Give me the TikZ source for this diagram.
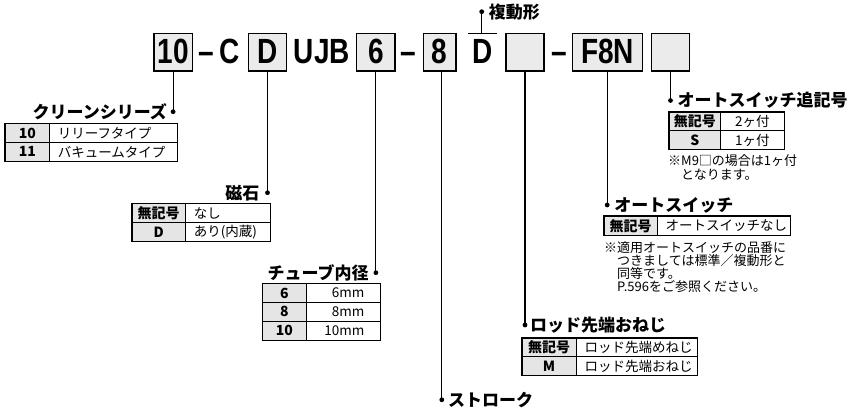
\documentclass[tikz,border=0pt]{standalone}
\usepackage{fontspec}
\newfontfamily\jp{Noto Sans CJK JP}
\newfontfamily\codefont{Liberation Sans}[FakeStretch=0.8]
\usetikzlibrary{positioning}
\definecolor{boxgray}{gray}{0.92}
\definecolor{keygray}{gray}{0.90}
\tikzset{
  codebox/.style={draw, line width=1.2pt, fill=boxgray, minimum height=37.7pt, inner sep=0pt,
    text height=22.5pt, text depth=0pt, font=\codefont\bfseries\fontsize{35}{35}\selectfont},
  codetext/.style={inner sep=0pt, text height=22.5pt, text depth=0pt,
    font=\codefont\bfseries\fontsize{35}{35}\selectfont},
  lead/.style={line width=1.1pt},
  lbl/.style={inner sep=0pt, font=\jp\bfseries\fontsize{17}{17}\selectfont},
  note/.style={inner sep=0pt, anchor=north west, align=left, font=\jp\fontsize{13}{13}\selectfont},
  keycell/.style={draw, line width=0.6pt, fill=keygray, minimum width=#1, minimum height=18.8pt,
    inner sep=0pt, anchor=north west, font=\jp\bfseries\fontsize{14}{14}\selectfont},
  valcell/.style={draw, line width=0.6pt, minimum width=#1, minimum height=18.8pt,
    inner sep=0pt, anchor=north west, font=\jp\fontsize{13.5}{13.5}\selectfont},
  valleft/.style={draw, line width=0.6pt, text width=#1, align=left, minimum height=18.8pt,
    inner xsep=8.5pt, inner ysep=0pt, anchor=north west, font=\jp\fontsize{13.5}{13.5}\selectfont},
  valright/.style={draw, line width=0.6pt, text width=#1, align=right, minimum height=18.8pt,
    inner xsep=16pt, inner ysep=0pt, anchor=north west, font=\jp\fontsize{13.5}{13.5}\selectfont},
  frame/.style={line width=1.1pt}
}
\begin{document}
\begin{tikzpicture}[x=1pt, y=-1pt]
\useasboundingbox (0,0) rectangle (847,411);

% model code
\node[codebox, minimum width=38.3pt] (b10) at (173.1,52.2) {10};
\node[codetext] (dash1) at (205.8,52.2) {–};
\node[codetext] (lc) at (229.3,52.2) {C};
\node[codebox, minimum width=38.4pt] (bD) at (267.5,52.2) {D};
\node[codetext] (lujb) at (322,52.2) {UJB};
\node[codebox, minimum width=38.3pt] (b6) at (375.9,52.2) {6};
\node[codetext] (dash2) at (408.5,52.2) {–};
\node[codebox, minimum width=32.7pt] (b8) at (439.7,52.2) {8};
\node[codetext] (lD) at (482.5,52.2) {D};
\node[codebox, minimum width=38pt] (bsw) at (525,52.2) {};
\node[codetext] (dash3) at (559.2,52.2) {–};
\node[codebox, minimum width=70pt] (bF) at (607.7,52.2) {F8N};
\node[codebox, minimum width=37.6pt] (bs) at (670.5,52.2) {};

% double acting mark
\coordinate (ovl) at (468.3,33.3);
\coordinate (ovr) at (496.7,33.3);
\coordinate (ovm) at (481.7,33.3);
\coordinate (ddbl) at (481.7,11.7);
\draw[lead] (ovl) -- (ovr);
\draw[lead] (ovm) -- (ddbl);
\fill (ddbl) circle (2.4pt);
\node[lbl, right=7pt of ddbl] (tdbl) {複動形};

% leader end points
\coordinate (d10) at (173.1,111.7);
\coordinate (dD) at (267.5,192.7);
\coordinate (d6) at (375.9,272.7);
\coordinate (d8) at (441.8,399.8);
\coordinate (dsw) at (525,325);
\coordinate (dF) at (607.2,205);
\coordinate (ds) at (670.5,100.5);

\draw[lead] (b10.south) -- (d10);
\draw[lead] (bD.south) -- (dD);
\draw[lead] (b6.south) -- (d6);
\draw[lead] (b8.south -| d8) -- (d8);
\draw[lead] (bsw.south) -- (dsw);
\draw[lead] (bF.south -| dF) -- (dF);
\draw[lead] (bs.south) -- (ds);
\foreach \d in {d10,dD,d6,d8,dsw,dF,ds}
  \fill (\d) circle (2.4pt);

% clean series
\node[lbl, left=6pt of d10] (tser) {クリーンシリーズ};
\node[keycell=44pt] (ser1k) at (5,123.3) {10};
\node[valleft=110.7pt] (ser1v) at (49,123.3) {リリーフタイプ};
\node[keycell=44pt] (ser2k) at (5,142.1) {11};
\node[valleft=110.7pt] (ser2v) at (49,142.1) {バキュームタイプ};
\draw[frame] (ser1k.north west) rectangle (ser2v.south east);

% magnet
\node[lbl, left=8pt of dD] (tmag) {磁石};
\node[keycell=53.3pt] (mag1k) at (131.7,203.3) {無記号};
\node[valleft=68.3pt] (mag1v) at (185,203.3) {なし};
\node[keycell=53.3pt] (mag2k) at (131.7,222.1) {D};
\node[valleft=68.3pt] (mag2v) at (185,222.1) {あり(内蔵)};
\draw[frame] (mag1k.north west) rectangle (mag2v.south east);

% bore size
\node[lbl, left=7pt of d6] (tbore) {チューブ内径};
\node[keycell=43.4pt] (bor1k) at (262.3,283.3) {6};
\node[valright=42.3pt] (bor1v) at (305.7,283.3) {6mm};
\node[keycell=43.4pt] (bor2k) at (262.3,302.1) {8};
\node[valright=42.3pt] (bor2v) at (305.7,302.1) {8mm};
\node[keycell=43.4pt] (bor3k) at (262.3,320.9) {10};
\node[valright=42.3pt] (bor3v) at (305.7,320.9) {10mm};
\draw[frame] (bor1k.north west) rectangle (bor3v.south east);

% stroke
\node[lbl, right=6pt of d8] (tstr) {ストローク};

% rod end
\node[lbl, right=5pt of dsw] (trod) {ロッド先端おねじ};
\node[keycell=54pt] (rod1k) at (521.7,337.7) {無記号};
\node[valleft=104.5pt] (rod1v) at (575.7,337.7) {ロッド先端めねじ};
\node[keycell=54pt] (rod2k) at (521.7,356.5) {M};
\node[valleft=104.5pt] (rod2v) at (575.7,356.5) {ロッド先端おねじ};
\draw[frame] (rod1k.north west) rectangle (rod2v.south east);

% auto switch
\node[lbl, right=7pt of dF] (tsw) {オートスイッチ};
\node[keycell=52.7pt] (sw1k) at (604,216) {無記号};
\node[valleft=116.3pt] (sw1v) at (656.7,216) {オートスイッチなし};
\draw[frame] (sw1k.north west) rectangle (sw1v.south east);
\node[note, font=\jp\fontsize{13}{12.8}\selectfont] (nsw) at (604,241.5)
  {※適用オートスイッチの品番に\\\hspace*{1em}つきましては標準／複動形と\\\hspace*{1em}同等です。\\\hspace*{1em}P.596をご参照ください。};

% auto switch suffix
\node[lbl, right=7pt of ds] (tsuf) {オートスイッチ追記号};
\node[keycell=51pt] (suf1k) at (669,111.7) {無記号};
\node[valcell=64.3pt] (suf1v) at (720,111.7) {2ヶ付};
\node[keycell=51pt] (suf2k) at (669,130.5) {S};
\node[valcell=64.3pt] (suf2v) at (720,130.5) {1ヶ付};
\draw[frame] (suf1k.north west) rectangle (suf2v.south east);
\node[note, font=\jp\fontsize{13}{14.3}\selectfont] (nsuf) at (668,154)
  {※M9□の場合は1ヶ付\\\hspace*{1em}となります。};

\end{tikzpicture}
\end{document}
